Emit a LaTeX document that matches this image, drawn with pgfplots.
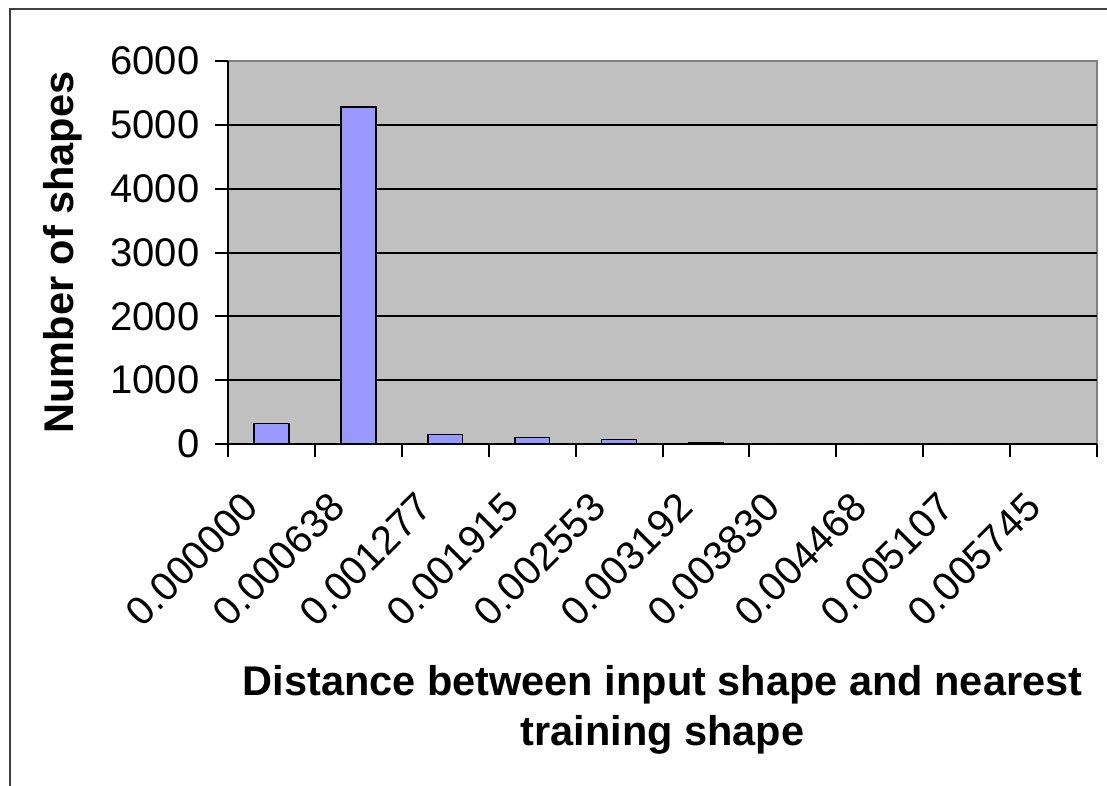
\documentclass[border=0pt]{standalone}
\usepackage{fontspec}
\setmainfont{Liberation Sans}
\usepackage{pgfplots}
\pgfplotsset{compat=1.18}
\definecolor{plotgray}{RGB}{192,192,192}
\definecolor{barblue}{RGB}{153,153,255}
\definecolor{framegray}{RGB}{128,128,128}

\begin{document}
\begin{tikzpicture}[x=1pt,y=1pt]
\useasboundingbox (0,0) rectangle (1107,785);
% chart frame
\draw[line width=2pt, black!75] (10,-20) -- (10,775.5) -- (1130,775.5);
\begin{axis}[
  at={(228pt,341pt)}, anchor=south west,
  scale only axis, width=869pt, height=383pt,
  xmin=-0.5, xmax=9.5, ymin=0, ymax=6000,
  axis background/.style={fill=plotgray, draw=framegray, line width=1.5pt},
  axis x line*=bottom, axis y line*=left,
  axis line style={black, line width=2pt, -},
  tick align=outside,
  major tick length=13pt, minor tick length=13pt,
  every tick/.style={black, line width=2pt},
  xtick={0,...,9},
  xticklabels={0.000000,0.000638,0.001277,0.001915,0.002553,0.003192,0.003830,0.004468,0.005107,0.005745},
  major x tick style={draw=none},
  minor xtick={-0.5,0.5,...,9.5},
  ytick={0,1000,...,5000},
  extra y ticks={6000},
  extra y tick style={grid=none},
  ymajorgrids,
  major grid style={black, line width=2pt},
  /pgf/number format/1000 sep={},
  /pgf/number format/assume math mode=true,
  yticklabel style={font=\fontsize{40}{42}\selectfont, xshift=-12pt},
  xticklabel style={font=\fontsize{40}{42}\selectfont, xshift=-18pt, yshift=-41pt, rotate=45, anchor=east},
  xlabel={Distance between input shape and nearest\\training shape},
  xlabel style={at={(axis description cs:0.5,-0.6945)}, anchor=center, align=center,
    font=\bfseries\fontsize{41.5}{50}\selectfont},
  ylabel={Number of shapes},
  ylabel style={at={(axis description cs:-0.19,0.5)}, anchor=center,
    font=\bfseries\fontsize{41.5}{48}\selectfont},
]
\addplot[ybar, bar width=34.8pt, fill=barblue, draw=black, line width=1.5pt]
  coordinates {(0,324) (1,5276) (2,152) (3,100) (4,74) (5,25) (6,0) (7,0) (8,0) (9,0)};
\end{axis}
\end{tikzpicture}
\end{document}
